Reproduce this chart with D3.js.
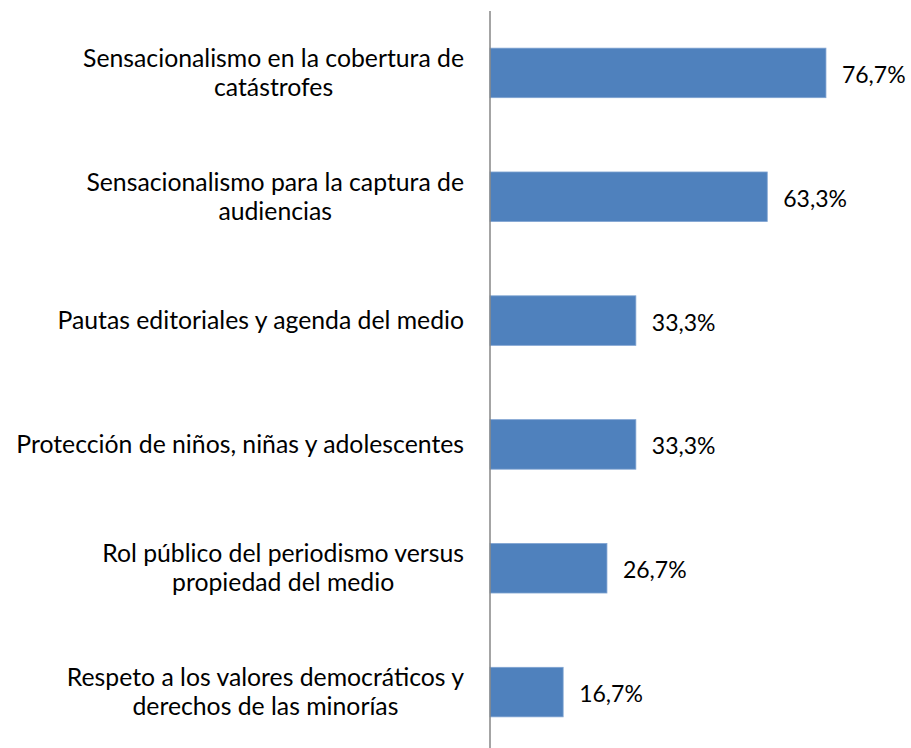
<!DOCTYPE html>
<html lang="es">
<head>
  <meta charset="UTF-8">
  <title>Temas</title>
  <script src="https://d3js.org/d3.v7.min.js"></script>
  <style>
    body {
      margin: 0;
      background: #fff;
      font-family: "Lato", "Open Sans", sans-serif;
    }
    .cat-label {
      font-size: 21px;
      fill: #000;
      text-anchor: middle;
    }
    .val-label {
      font-size: 23px;
      fill: #000;
    }
  </style>
</head>
<body>
  <svg id="chart" width="911" height="748"></svg>

  <script>
    // categories (line breaks as in the original)
    const categories = [
      ["Sensacionalismo en la cobertura de", "catástrofes"],
      ["Sensacionalismo para la captura de", "audiencias"],
      ["Pautas editoriales y agenda del medio"],
      ["Protección de niños, niñas y adolescentes"],
      ["Rol público del periodismo versus", "propiedad del medio"],
      ["Respeto a los valores democráticos y", "derechos de las minorías"]
    ];
    const values = [76.7, 63.3, 33.3, 33.3, 26.7, 16.7];

    const svg = d3.select("#chart");
    const margin = { top: 11, right: 0, bottom: -6, left: 490 };
    const height = 748 - margin.top - margin.bottom;

    const g = svg.append("g")
      .attr("transform", `translate(${margin.left},${margin.top})`);

    const ids = d3.range(categories.length);

    const y = d3.scaleBand()
      .domain(ids)
      .range([0, height])
      .paddingInner(0.6)
      .paddingOuter(0.3);

    // 76.7% spans ~336px
    const x = d3.scaleLinear()
      .domain([0, 100])
      .range([0, 438]);

    g.selectAll(".bar")
      .data(ids)
      .enter().append("rect")
      .attr("class", "bar")
      .attr("x", 0)
      .attr("y", i => y(i))
      .attr("width", i => x(values[i]))
      .attr("height", y.bandwidth())
      .attr("fill", "#4f81bd")
      .attr("stroke", "#7fa3d1")
      .attr("stroke-width", 0.8);

    // value labels
    g.selectAll(".val-label")
      .data(ids)
      .enter().append("text")
      .attr("class", "val-label")
      .attr("x", i => x(values[i]) + 16)
      .attr("y", i => y(i) + y.bandwidth() / 2 + 2)
      .attr("dy", "0.35em")
      .text(i => values[i].toFixed(1).replace(".", ",") + "%");

    // category labels: each block right-aligned to the axis, lines centred in the block
    const lineH = 29;
    const rightEdge = -26;
    const labels = g.selectAll(".cat-label")
      .data(ids)
      .enter().append("text")
      .attr("class", "cat-label");

    labels.each(function (i) {
      const lines = categories[i];
      const t = d3.select(this);
      lines.forEach((ln, k) => {
        t.append("tspan")
          .attr("x", 0)
          .attr("y", (k - (lines.length - 1) / 2) * lineH)
          .attr("dy", "0.35em")
          .text(ln);
      });
    });

    // scale the font so the longest line is as wide as in the original (~448px)
    let widest = 0;
    labels.selectAll("tspan").each(function () {
      widest = Math.max(widest, this.getComputedTextLength());
    });
    const fs = 21 * 448 / widest;
    labels.style("font-size", fs + "px");

    labels.each(function (i) {
      let w = 0;
      d3.select(this).selectAll("tspan").each(function () {
        w = Math.max(w, this.getComputedTextLength());
      });
      d3.select(this).attr("transform",
        `translate(${rightEdge - w / 2},${y(i) + y.bandwidth() / 2})`);
    });

    // vertical axis line
    g.append("line")
      .attr("x1", 0).attr("x2", 0)
      .attr("y1", 0).attr("y2", height)
      .attr("stroke", "#868686")
      .attr("stroke-width", 1.5);
  </script>
</body>
</html>
